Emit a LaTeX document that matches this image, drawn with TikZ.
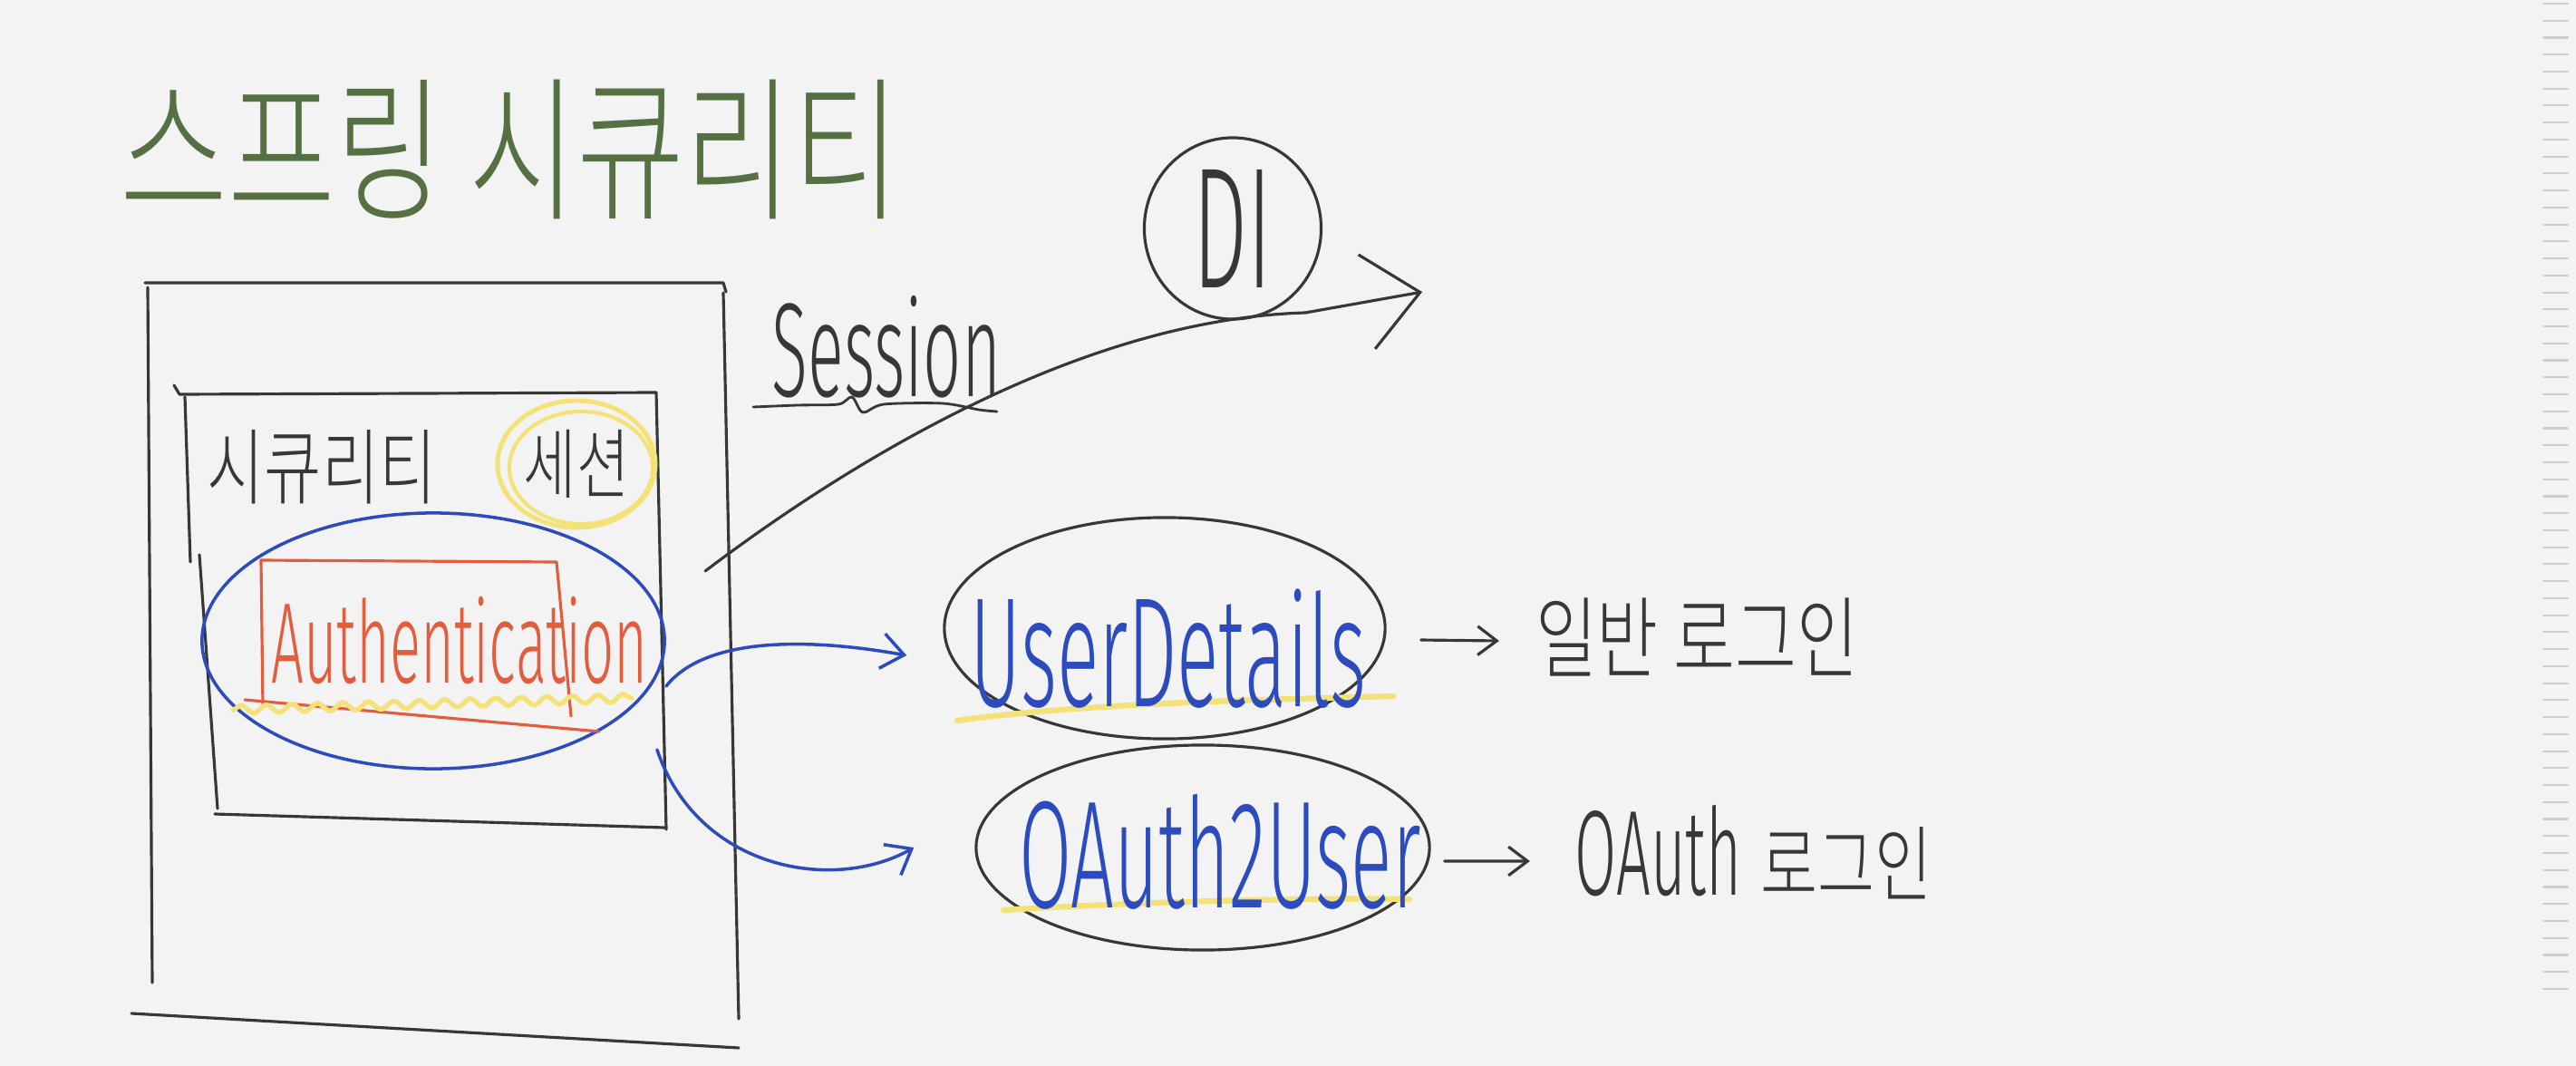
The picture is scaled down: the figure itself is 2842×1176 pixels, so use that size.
\documentclass[tikz,border=0pt]{standalone}
\usepackage{fontspec}
\usetikzlibrary{arrows.meta,shapes.geometric,decorations.pathmorphing}
\IfFontExistsTF{Fira Sans Light}{\newfontfamily\hand[FakeStretch=0.5]{Fira Sans Light}}{\newfontfamily\hand[FakeStretch=0.5]{Fira Sans}}
\IfFontExistsTF{Noto Sans CJK KR Light}{\newfontfamily\kor[FakeStretch=0.75]{Noto Sans CJK KR Light}}{\newfontfamily\kor[FakeStretch=0.75]{Noto Sans CJK KR}}
\definecolor{bgc}{RGB}{243,243,243}
\definecolor{inkc}{RGB}{55,55,55}
\definecolor{grn}{RGB}{86,112,68}
\definecolor{blu}{RGB}{43,75,190}
\definecolor{rd}{RGB}{226,92,62}
\definecolor{ylw}{RGB}{243,226,120}
\definecolor{tickc}{RGB}{205,205,205}
\begin{document}
\begin{tikzpicture}[x=0.01cm,y=-0.01cm,line cap=round,line join=round,
  inkl/.style={draw=inkc,line width=0.9pt},
  bluel/.style={draw=blu,line width=1pt},
  redl/.style={draw=rd,line width=0.9pt},
  ylwl/.style={draw=ylw,line width=1.8pt},
  txt/.style={inner sep=0pt,outer sep=0pt},
  oval/.style={ellipse,inner sep=0pt,line width=0.9pt},
  smallarr/.style={-{Straight Barb[length=6pt,width=9pt]}},
  bluearr/.style={-{Straight Barb[length=7pt,width=11pt]}}]
\fill[bgc] (0,0) rectangle (2842,1176);
\useasboundingbox (0,0) rectangle (2842,1176);

% scrollbar ticks
\foreach \i in {0,...,58} \draw[tickc,line width=0.6pt] (2806,{4+18.74*\i}) -- (2833,{4+18.74*\i});

% title
\node[txt,text=grn,font={\kor\fontsize{49}{49}\selectfont}] (title) at (563,165) {스프링 시큐리티};

% outer box
\draw[inkl] (160,312) -- (798,312) -- (801,322);
\draw[inkl] (163,317) -- (168,1084);
\draw[inkl] (798,323) -- (815,1124);
\draw[inkl] (145,1118) -- (815,1156);
\coordinate (sessStart) at (778,630);

% inner box
\draw[inkl] (192,425) -- (198,435) -- (724,433);
\draw[inkl] (204,438) -- (210,620);
\draw[inkl] (220,612) -- (240,892);
\draw[inkl] (724,433) -- (735,915);
\draw[inkl] (237,898) -- (733,913);

% security session label
\node[txt,text=inkc,font={\kor\fontsize{26}{26}\selectfont}] (sec) at (355,515) {시큐리티};
\node[oval,draw=ylw,line width=1.4pt,minimum width=1.74cm,minimum height=1.40cm,
      text=inkc,font={\kor\fontsize{24}{24}\selectfont}] (sess) at (636,512) {세션};
\draw[ylw,line width=1.2pt] ([xshift=0.05cm,yshift=-0.04cm]sess.center) ellipse [x radius=0.79cm, y radius=0.62cm];

% authentication
\node[oval,draw=blu,line width=1pt,minimum width=5.1cm,minimum height=2.82cm] (authE) at (478,707) {};
\draw[redl] (288,618) -- (614,620);
\draw[redl] (288,618) -- (290,780);
\draw[redl] (614,620) -- (630,790);
\draw[redl] (270,772) -- (661,807);
\draw[ylw,line width=1.5pt,decorate,decoration={snake,amplitude=1.3pt,segment length=8pt}] (257,783) -- (697,770);
\node[txt,text=rd,font={\hand\fontsize{36}{36}\selectfont}] (auth) at (507,707) {Authentication};

% session + DI
\node[txt,text=inkc,font={\hand\fontsize{42}{42}\selectfont}] (session) at (978,383) {Session};
\draw[inkc,line width=0.8pt] plot[smooth] coordinates {(831,449) (880,447) (925,446) (940,438) (952,455) (975,446) (1040,445) (1080,452) (1100,454)};
\node[oval,draw=inkc,minimum width=1.95cm,minimum height=2.0cm,text=inkc,
      font={\hand\fontsize{54}{54}\selectfont}] (DI) at (1360,252) {DI};
\draw[inkl,-{Straight Barb[length=17pt,width=30pt]}] (sessStart) .. controls (950,500) and (1200,352) .. (1440,345) -- ([xshift=2.09cm,yshift=-0.7cm]DI.center);

% UserDetails / OAuth2User
\node[oval,draw=inkc,minimum width=4.86cm,minimum height=2.44cm] (udE) at (1285,693) {};
\draw[ylwl] (1056,795) .. controls (1200,775) and (1400,772) .. (1537,768);
\node[txt,text=blu,font={\hand\fontsize{49}{49}\selectfont}] (ud) at (1289,716) {UserDetails};
\node[oval,draw=inkc,minimum width=5.0cm,minimum height=2.26cm] (oaE) at (1327,935) {};
\draw[ylwl] (1107,1004) .. controls (1250,995) and (1450,990) .. (1555,992);
\node[txt,text=blu,font={\hand\fontsize{48}{48}\selectfont}] (oa) at (1346,940) {OAuth2User};

% blue connectors
\draw[bluel,bluearr] ([yshift=-0.5cm]authE.east) .. controls (780,700) and (900,705) .. ([xshift=-0.4cm,yshift=-0.3cm]udE.west);
\draw[bluel,bluearr] ([xshift=-0.1cm,yshift=-1.2cm]authE.east) .. controls (770,960) and (920,985) .. ([xshift=-0.67cm]oaE.west);

% login labels
\node[txt,text=inkc,font={\kor\fontsize{28}{28}\selectfont}] (normal) at (1872,703) {일반 로그인};
\node[txt,text=inkc] (oalogin) at (1935,940) {{\hand\fontsize{38}{38}\selectfont OAuth}\hspace{6pt}{\kor\fontsize{26}{26}\selectfont 로그인}};
\draw[inkl,smallarr] ([xshift=0.38cm,yshift=-0.13cm]udE.east) -- ([xshift=-0.4cm,yshift=-0.04cm]normal.west);
\draw[inkl,smallarr] ([xshift=0.15cm,yshift=-0.15cm]oaE.east) -- ([xshift=-0.5cm,yshift=-0.1cm]oalogin.west);
\end{tikzpicture}
\end{document}
